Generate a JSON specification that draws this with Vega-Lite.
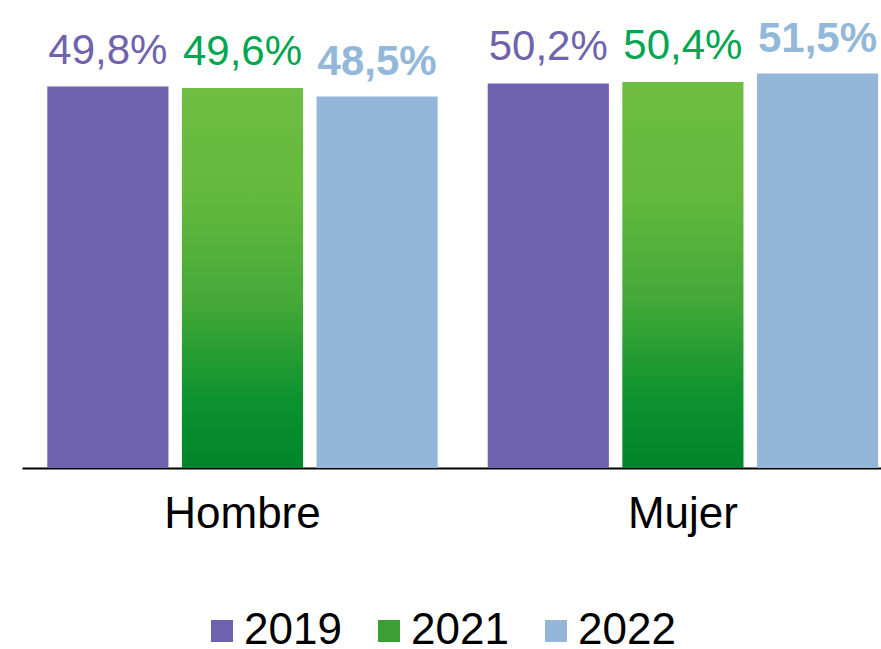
{
  "$schema": "https://vega.github.io/schema/vega-lite/v6.json",
  "width": 859,
  "height": 468,
  "autosize": {"type": "none"},
  "padding": {"left": 22, "top": 0, "right": 0, "bottom": 181},
  "background": "white",
  "config": {
    "view": {"stroke": null},
    "font": "Liberation Sans",
    "locale": {"number": {"decimal": ",", "thousands": ".", "grouping": [3], "currency": ["", " €"]}}
  },
  "data": {
    "values": [
      {"sexo": "Hombre", "year": "2019", "value": 0.498},
      {"sexo": "Hombre", "year": "2021", "value": 0.496},
      {"sexo": "Hombre", "year": "2022", "value": 0.485},
      {"sexo": "Mujer", "year": "2019", "value": 0.502},
      {"sexo": "Mujer", "year": "2021", "value": 0.504},
      {"sexo": "Mujer", "year": "2022", "value": 0.515}
    ]
  },
  "encoding": {
    "x": {
      "field": "sexo", "type": "nominal",
      "scale": {"paddingInner": 0.1136, "paddingOuter": 0.032, "align": 0.897},
      "axis": {
        "title": null, "labelAngle": 0, "labelFontSize": 44, "labelColor": "#000000",
        "labelFont": "Liberation Sans", "ticks": false, "tickSize": 0, "labelPadding": 59,
        "labelBaseline": "alphabetic", "domainColor": "#000000", "domainWidth": 2
      }
    },
    "xOffset": {
      "field": "year", "type": "nominal",
      "scale": {"paddingInner": 0.1, "paddingOuter": 0}
    },
    "y": {
      "field": "value", "type": "quantitative",
      "scale": {"domain": [0, 0.611], "nice": false, "zero": true},
      "axis": null
    }
  },
  "layer": [
    {
      "mark": {"type": "bar", "strokeWidth": 0},
      "encoding": {
        "fill": {
          "field": "year", "type": "nominal",
          "condition": {
            "test": "datum.year === '2021'",
            "value": {"gradient": "linear", "x1": 0, "y1": 0, "x2": 0, "y2": 1,
              "stops": [
                {"offset": 0, "color": "#6fbe43"},
                {"offset": 0.3, "color": "#62b83d"},
                {"offset": 0.56, "color": "#45a938"},
                {"offset": 0.82, "color": "#0c922e"},
                {"offset": 1, "color": "#00862a"}
              ]}
          },
          "scale": {"domain": ["2019", "2021", "2022"], "range": ["#6e62ae", "#3aa036", "#94b7d9"]},
          "legend": {
            "title": null, "orient": "none", "legendX": 178, "legendY": 609, "direction": "horizontal",
            "symbolType": "square", "symbolSize": 484, "symbolStrokeWidth": 0,
            "labelFontSize": 44, "labelFont": "Liberation Sans", "labelColor": "#000000",
            "labelOffset": 0, "columnPadding": 25,
            "encode": {
              "symbols": {
                "update": {
                  "fill": {
                    "condition": [
                      {"test": "datum.value === '2019'", "value": "#6e62ae"},
                      {"test": "datum.value === '2021'", "value": {"gradient": "linear", "x1": 0, "y1": 0, "x2": 0, "y2": 1,
                        "stops": [{"offset": 0, "color": "#6fbe43"}, {"offset": 1, "color": "#008a2c"}]}}
                    ],
                    "value": "#94b7d9"
                  }
                }
              }
            }
          }
        }
      }
    },
    {
      "transform": [{"filter": "datum.year !== '2022'"}],
      "mark": {"type": "text", "fontSize": 42, "baseline": "alphabetic", "dy": -23, "font": "Liberation Sans"},
      "encoding": {
        "text": {"field": "value", "type": "quantitative", "format": ".1%"},
        "color": {
          "condition": {"test": "datum.year === '2019'", "value": "#6f63ad"},
          "value": "#00a651"
        }
      }
    },
    {
      "transform": [{"filter": "datum.year === '2022'"}],
      "mark": {"type": "text", "fontSize": 42, "fontWeight": "bold", "baseline": "alphabetic", "dy": -22, "font": "Liberation Sans", "color": "#94b8d9"},
      "encoding": {
        "text": {"field": "value", "type": "quantitative", "format": ".1%"}
      }
    }
  ]
}
